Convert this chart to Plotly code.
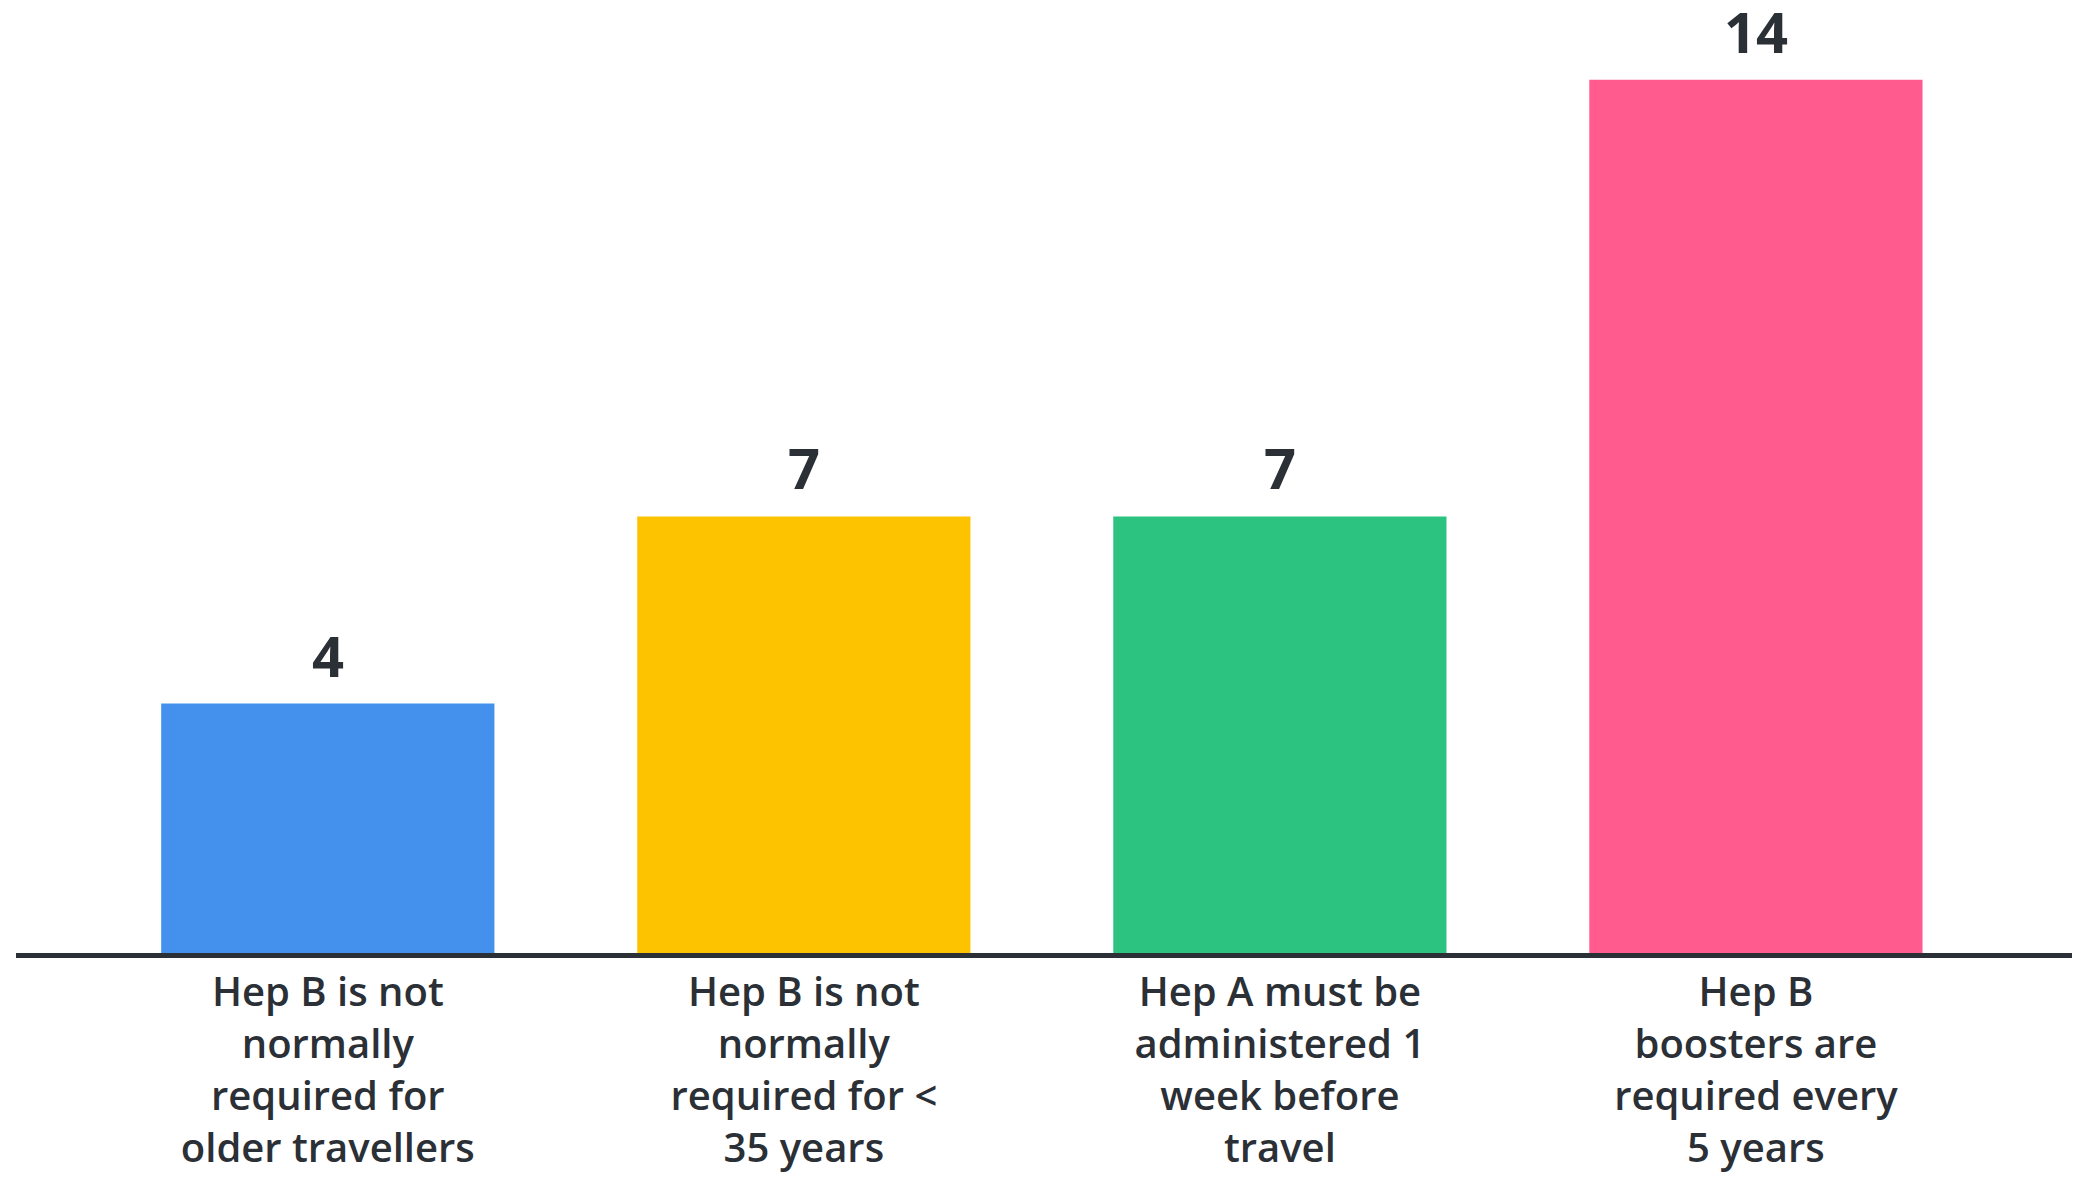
import plotly.graph_objects as go

# Chart data
categories = [
    "Hep B is not<br>normally<br>required for<br>older travellers",
    "Hep B is not<br>normally<br>required for <<br>35 years",
    "Hep A must be<br>administered 1<br>week before<br>travel",
    "Hep B<br>boosters are<br>required every<br>5 years",
]
values = [4, 7, 7, 14]
bar_colors = ["#4391EC", "#FDC300", "#2BC37F", "#FF5B8F"]

TEXT_COLOR = "#2B2F36"
FONT = "Open Sans"

fig = go.Figure(
    go.Bar(
        x=list(range(len(categories))),
        y=values,
        width=0.7,
        marker=dict(color=bar_colors, line=dict(width=0)),
        hoverinfo="skip",
    )
)

# value labels above each bar
for i, v in enumerate(values):
    fig.add_annotation(
        x=i, y=v, text=str(v), showarrow=False,
        yanchor="bottom", yshift=9,
        font=dict(family=FONT, size=56, color=TEXT_COLOR, weight=700),
    )

fig.update_layout(
    width=2085, height=1181,
    margin=dict(l=16, r=13, t=20, b=228),
    paper_bgcolor="white", plot_bgcolor="white",
    showlegend=False,
    xaxis=dict(
        range=[-0.655, 3.664],
        automargin=False,
        tickmode="array",
        tickvals=list(range(len(categories))),
        ticktext=categories,
        showline=True, linecolor=TEXT_COLOR, linewidth=5,
        showgrid=False, zeroline=False, ticks="",
        ticklabelstandoff=0,
        tickfont=dict(family=FONT, size=40, color=TEXT_COLOR, weight=600),
    ),
    yaxis=dict(
        range=[0, 14.96],
        automargin=False,
        visible=False, showgrid=False, zeroline=False,
    ),
)

fig.write_html("out.html")
